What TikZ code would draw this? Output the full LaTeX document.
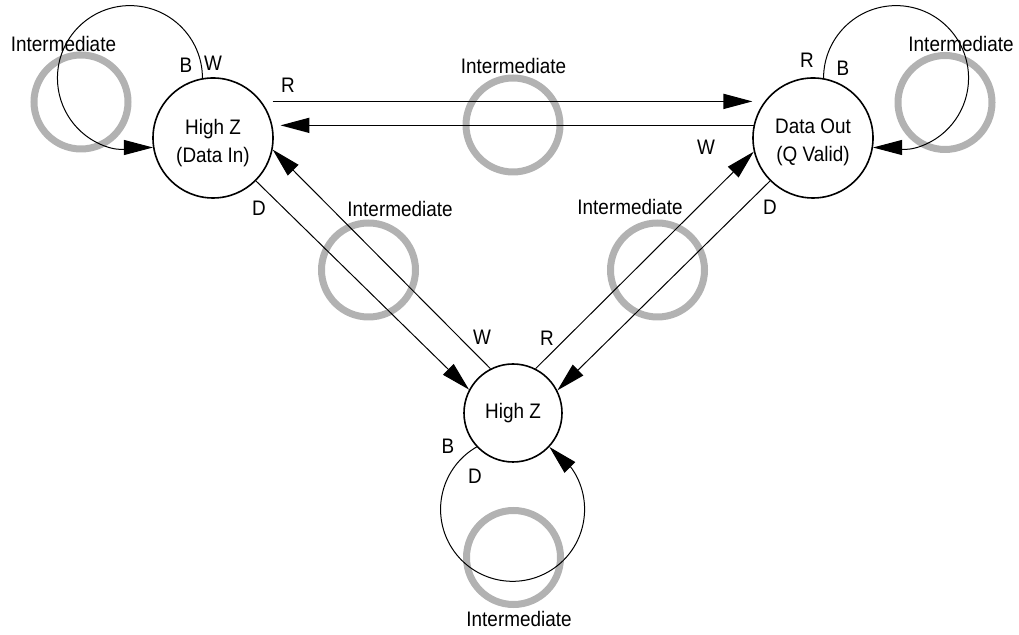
\documentclass[tikz,border=0pt]{standalone}
\usepackage{fontspec}
\setmainfont{Liberation Sans}[FakeStretch=0.9]
\usetikzlibrary{arrows.meta}
\definecolor{ringgray}{RGB}{178,178,178}

\begin{document}
\begin{tikzpicture}[-,x=1pt,y=1pt,
                    state node/.style={circle, draw, line width=1.6pt, minimum size=120pt, inner sep=0pt, align=center, font=\fontsize{21}{28}\selectfont},
                    ring node/.style={circle, draw=ringgray, line width=7pt, minimum size=94pt, inner sep=0pt},
                    tag node/.style={inner sep=0pt, font=\fontsize{21}{24}\selectfont},
                    tip/.style={-{Triangle[length=29pt,width=15pt]}}]
  \useasboundingbox (0,0) rectangle (1019,634);

  %Rings%
  \node[ring node] (ring1) at (81,532) {};
  \node[ring node] (ring2) at (513,509) {};
  \node[ring node] (ring3) at (945,531.5) {};
  \node[ring node] (ring4) at (368.5,364) {};
  \node[ring node] (ring5) at (657.5,364) {};
  \node[ring node] (ring6) at (513.5,76.5) {};

  %States%
  \node[state node] (hzin) at (213,496) {\rule{0pt}{25pt}High Z\\(Data In)};
  \node[state node] (dout) at (813,496) {\rule{0pt}{24pt}Data Out\\(Q Valid)};
  \node[state node, minimum size=98pt] (hz) at (513,221) {High Z};

  %Texts%
  \node[tag node] (int1) at (63.5,590) {Intermediate};
  \node[tag node] (int2) at (513.5,568) {Intermediate};
  \node[tag node] (int3) at (961,590) {Intermediate};
  \node[tag node] (int4) at (400,425) {Intermediate};
  \node[tag node] (int5) at (630,427) {Intermediate};
  \node[tag node] (int6) at (519,15) {Intermediate};

  \node[tag node] (b1) at (186,569) {B};
  \node[tag node] (w1) at (213,571) {W};
  \node[tag node] (r1) at (288,549) {R};
  \node[tag node] (r2) at (807,574) {R};
  \node[tag node] (b2) at (843,566) {B};
  \node[tag node] (w2) at (706,487) {W};
  \node[tag node] (d1) at (259,426) {D};
  \node[tag node] (w3) at (482,297) {W};
  \node[tag node] (r3) at (547,296) {R};
  \node[tag node] (d2) at (770,427) {D};
  \node[tag node] (b3) at (448,188) {B};
  \node[tag node] (d3) at (475,158) {D};

  %Top pair%
  \path[line width=1.6pt]
    (hzin.37) edge[tip, shorten <=11pt, shorten >=12pt] (dout.143)
    (dout.168) edge[tip, shorten >=8pt] (hzin.12);

  %Diagonals%
  \path[line width=1pt]
    (hzin.-45) edge[tip] (hz.152)
    (hz.117) edge[tip] (hzin.-11)
    (hz.63) edge[tip] (dout.193)
    (dout.225) edge[tip] (hz.27);

  %Loops%
  \draw[line width=1pt, tip] (hzin.100) arc[start angle=0, end angle=250, radius=72.5] to[out=-20,in=180] (hzin.189);
  \draw[line width=1pt, tip] (dout.80) arc[start angle=180, end angle=-70, radius=72.5] to[out=-160,in=0] (dout.351);
  \draw[line width=1pt, tip] (hz.223) arc[start angle=120, end angle=390, radius=72] to[out=120,in=-45] (hz.-43);
\end{tikzpicture}
\end{document}
